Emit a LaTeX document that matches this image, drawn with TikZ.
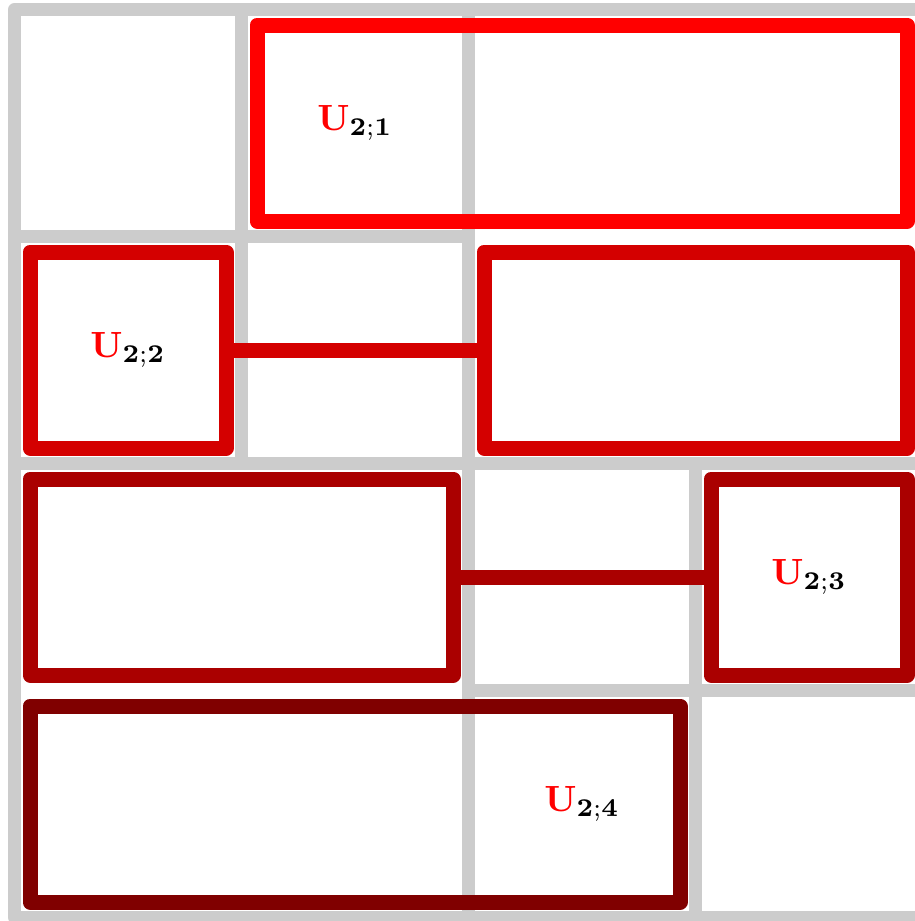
\documentclass[tikz,border=0pt]{standalone}
\definecolor{gridgrey}{HTML}{CCCCCC}
\definecolor{uone}{HTML}{FF0000}
\definecolor{utwo}{HTML}{D40000}
\definecolor{uthree}{HTML}{AA0000}
\definecolor{ufour}{HTML}{800000}
\tikzset{
  gridline/.style={draw=gridgrey, line width=13pt, line join=round},
  ubox/.style={draw=#1, line width=15pt, line join=round, rectangle, inner sep=0pt, outer sep=0pt, minimum height=196pt},
  ulink/.style={draw=#1, line width=15pt},
  ulabel/.style={inner sep=0pt, scale=3.65}
}
\begin{document}
\begin{tikzpicture}[x=1pt, y=-1pt]
\useasboundingbox (0,0) rectangle (915,921);
% grey block structure
\draw[gridline] (14.5,9.5) rectangle (922.5,917.5);
\draw[gridline] (468.5,9.5) -- (468.5,917.5);
\draw[gridline] (14.5,463.5) -- (922.5,463.5);
\draw[gridline] (241.5,9.5) -- (241.5,463.5);
\draw[gridline] (14.5,236.5) -- (468.5,236.5);
\draw[gridline] (695.5,463.5) -- (695.5,917.5);
\draw[gridline] (468.5,690.5) -- (922.5,690.5);
% U_{2;1}
\node[ubox=uone, minimum width=650pt] (b1) at (582,123) {};
% U_{2;2}
\node[ubox=utwo, minimum width=196pt] (b2l) at (128,350) {};
\node[ubox=utwo, minimum width=423pt] (b2r) at (695.5,350) {};
\draw[ulink=utwo] (b2l.east) -- (b2r.west);
% U_{2;3}
\node[ubox=uthree, minimum width=423pt] (b3l) at (241.5,577) {};
\node[ubox=uthree, minimum width=196pt] (b3r) at (809,577) {};
\draw[ulink=uthree] (b3l.east) -- (b3r.west);
% U_{2;4}
\node[ubox=ufour, minimum width=650pt] (b4) at (355,804) {};
% labels
\node[ulabel] (l1) at (355,123) {${\color{red}\mathbf{U}}_{\mathbf{2;1}}$};
\node[ulabel] (l2) at (128,350) {${\color{red}\mathbf{U}}_{\mathbf{2;2}}$};
\node[ulabel] (l3) at (809,577) {${\color{red}\mathbf{U}}_{\mathbf{2;3}}$};
\node[ulabel] (l4) at (582,804) {${\color{red}\mathbf{U}}_{\mathbf{2;4}}$};
\end{tikzpicture}
\end{document}
